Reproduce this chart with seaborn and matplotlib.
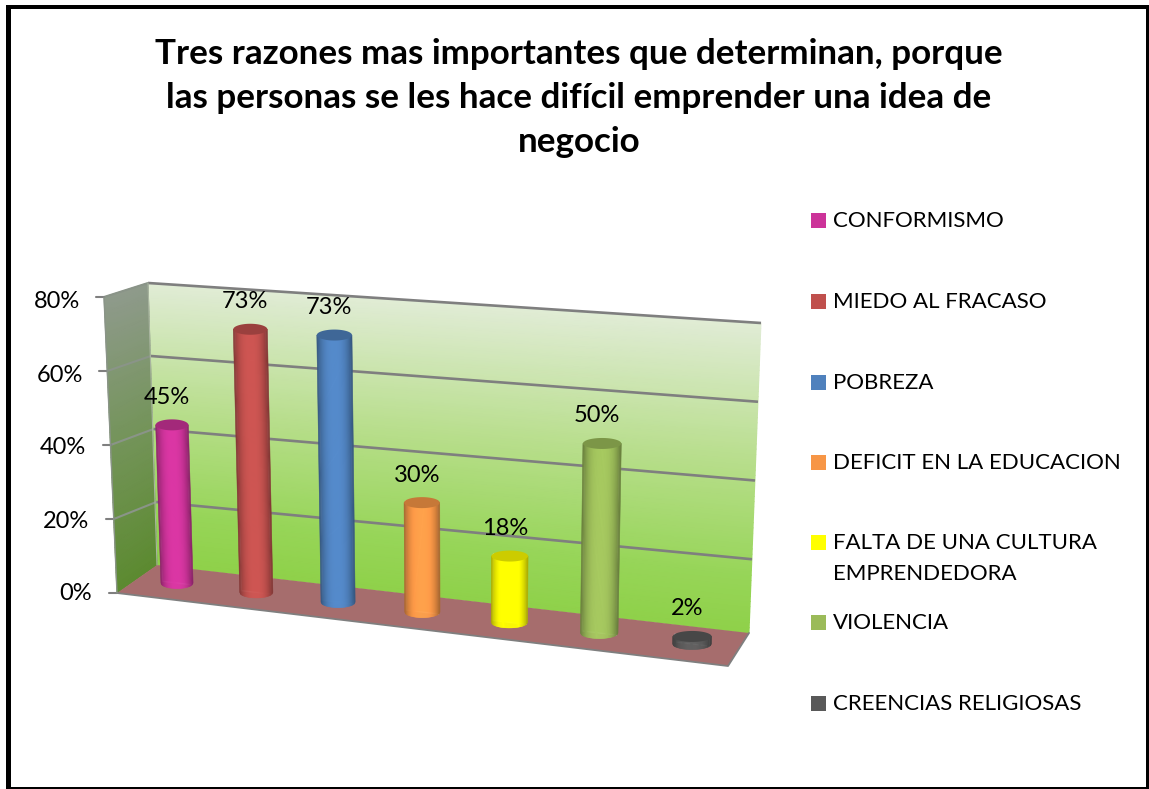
import numpy as np
import pandas as pd
import matplotlib
matplotlib.use("Agg")
import matplotlib.pyplot as plt
import seaborn as sns
from matplotlib.collections import PolyCollection
from matplotlib.colors import LinearSegmentedColormap, to_rgb
from matplotlib.patches import Polygon, Rectangle
from matplotlib.ticker import FuncFormatter
from matplotlib.transforms import Affine2D, Transform

TITLE = ("Tres razones mas importantes que determinan, porque\n"
         "las personas se les hace difícil emprender una idea de\n"
         "negocio")
categories = ["CONFORMISMO", "MIEDO AL FRACASO", "POBREZA", "DEFICIT EN LA EDUCACION",
              "FALTA DE UNA CULTURA\nEMPRENDEDORA", "VIOLENCIA", "CREENCIAS RELIGIOSAS"]
values = [45, 73, 73, 30, 18, 50, 2]
colors = ["#CC3399", "#C0504D", "#4F81BD", "#F79646", "#FFFF00", "#9BBB59", "#595959"]
y_ticks = [0, 20, 40, 60, 80]

W, H = 1149, 789
FONT = "Lato"
GRID = "#7F7F7F"

sns.set_theme(style="white")
plt.rcParams["font.family"] = [FONT, "DejaVu Sans"]
fig = plt.figure(figsize=(W / 100, H / 100), dpi=100, facecolor="white")

# ---------- background in pixel coordinates: frame, walls, floor ----------
bg = fig.add_axes([0, 0, 1, 1], zorder=0)
bg.set_xlim(0, W)
bg.set_ylim(H, 0)
bg.axis("off")

back_tl, back_tr, back_br, back_bl = map(np.array, [(148, 283), (761, 323), (749, 633), (157, 565)])
side_tl, side_bl = map(np.array, [(104, 297), (117, 593)])
floor_fr = np.array((728, 666))
# the zero line of the back wall lies just under the floor's rear edge
grid_bl, grid_br = np.array((159.0, 575.0)), np.array((749.0, 638.0))


def wall_mesh(tl, tr, bl, br, stops, n=60):
    s = np.linspace(0, 1, n)[:, None]
    left, right = bl + (tl - bl) * s, br + (tr - br) * s
    X = np.column_stack([left[:, 0], right[:, 0]])
    Y = np.column_stack([left[:, 1], right[:, 1]])
    C = np.column_stack([s[:, 0], s[:, 0]])
    cmap = LinearSegmentedColormap.from_list("w", stops)
    bg.pcolormesh(X, Y, C, shading="gouraud", cmap=cmap, vmin=0, vmax=1, zorder=1)


wall_mesh(back_tl, back_tr, back_bl, back_br,
          [(0, "#8FD14A"), (0.18, "#97D558"), (0.55, "#B8DE8C"), (1, "#E1ECD6")])
wall_mesh(side_tl, back_tl, side_bl, back_bl,
          [(0, "#5C8A30"), (0.5, "#74945A"), (1, "#8F9A8C")])
bg.add_patch(Polygon([back_bl, back_br, floor_fr, side_bl], closed=True, fc="#A66D6D", ec="none", zorder=2))
bg.plot(*np.array([side_bl, floor_fr, back_br]).T, color=GRID, lw=1.3, zorder=3)

for v in y_ticks:
    f = v / 80
    bl_pt = grid_bl + (back_tl - grid_bl) * f
    br_pt = grid_br + (back_tr - grid_br) * f
    sl_pt = side_bl + (side_tl - side_bl) * f
    if v:
        bg.plot(*np.array([bl_pt, br_pt]).T, color=GRID, lw=1.9, zorder=3, solid_capstyle="butt")
        bg.plot(*np.array([sl_pt, bl_pt]).T, color="#8A9488", lw=1.5, zorder=3, solid_capstyle="butt")
    bg.plot([sl_pt[0] - 8, sl_pt[0]], [sl_pt[1]] * 2, color=GRID, lw=1.5, zorder=3)
bg.plot(*np.array([side_tl, side_bl]).T, color="#8A9488", lw=1.0, zorder=3)
bg.plot(*np.array([back_tl, back_bl]).T, color="#A9B5A0", lw=0.8, zorder=3)

for x0, y0, ww, hh in [(6, 5, 4.5, 784), (6, 5, 1143, 3.5), (1146, 5, 3, 784), (6, 787, 1143, 2)]:
    bg.add_patch(Rectangle((x0, y0), ww, hh, fc="black", ec="none", zorder=6))

# ---------- data axes ----------
ax = fig.add_axes([110 / W, (H - 592) / H, 650 / W, 292 / H], zorder=1)
ax.patch.set_alpha(0)
df = pd.DataFrame({"categoria": categories, "valor": values})
sns.barplot(data=df, x="categoria", y="valor", hue="categoria", palette=colors, hue_order=categories,
            order=categories, width=0.37, saturation=1, legend=False, ax=ax)
ax.set_xlim(-0.5, 6.5)
ax.set_ylim(0, 80)
ax.set_xlabel("")
ax.set_ylabel("")
ax.set_xticks([])
ax.set_yticks(y_ticks)
ax.yaxis.set_major_formatter(FuncFormatter(lambda v, _: f"{v:.0f}%"))
ax.tick_params(axis="y", length=0, pad=0, labelsize=17, labelcolor="black")
sns.despine(ax=ax, left=True, bottom=True)


# ---------- perspective of the 3-D chart plane ----------
class Persp(Transform):
    input_dims = output_dims = 2
    is_separable = False
    has_inverse = False

    def __init__(self, M):
        super().__init__()
        self.M = M

    def transform_non_affine(self, xy):
        xy = np.asarray(xy, float)
        q = np.column_stack([xy, np.ones(len(xy))]) @ self.M.T
        return q[:, :2] / q[:, 2:]


def homography(src, dst):
    A, b = [], []
    for (x, y), (u, v) in zip(src, dst):
        A.append([x, y, 1, 0, 0, 0, -u * x, -u * y]); b.append(u)
        A.append([0, 0, 0, x, y, 1, -v * x, -v * y]); b.append(v)
    return np.append(np.linalg.solve(np.array(A), np.array(b)), 1).reshape(3, 3)


corners = [(0, 0), (6, 0), (0, 80), (6, 80)]
targets_px = [(177, 583), (692, 644), (168, 298), (700, 332)]
M = homography(ax.transData.transform(corners), [(x, H - y) for x, y in targets_px])
T = ax.transData + Persp(M)

RY_PX = 5.5  # flat elliptical ends of the cylinders, in pixels
HALF = 0.205  # cylinder half width, in category units
for idx, (bar, v, c) in enumerate(zip(ax.patches, values, colors)):
    bar.set_transform(T)
    bar.set_clip_on(False)
    xc = bar.get_x() + bar.get_width() / 2
    top = bar.get_height()
    rgb = np.array(to_rgb(c))
    ct, cb = T.transform(np.array([[xc, top], [xc, 0.0]]))
    ht = T.transform(np.array([[xc + HALF, top]]))[0][0] - ct[0]
    hb = T.transform(np.array([[xc + HALF, 0.0]]))[0][0] - cb[0]
    edges = np.linspace(-1, 1, 35)
    polys, cols = [], []
    low = lambda t: cb[1] - RY_PX * np.sqrt(max(0, 1 - t * t))
    for a, b in zip(edges[:-1], edges[1:]):
        tm = (a + b) / 2
        polys.append([(ct[0] + a * ht, ct[1]), (ct[0] + b * ht, ct[1]),
                      (cb[0] + b * hb, low(b)), (cb[0] + a * hb, low(a))])
        shade = 0.66 + 0.42 * (1 - abs(tm) ** 2.6)
        cols.append(np.clip(rgb * shade, 0, 1))
    pc = PolyCollection(polys, facecolors=cols, edgecolors=cols, linewidths=0.4, zorder=3, clip_on=False)
    pc.set_transform(Affine2D())
    ax.add_artist(pc)
    th = np.linspace(0, 2 * np.pi, 60)
    cap = np.column_stack([ct[0] + ht * np.cos(th), ct[1] + RY_PX * np.sin(th)])
    ax.add_artist(Polygon(cap, closed=True, fc=np.clip(rgb * 0.8, 0, 1), ec="none",
                          transform=Affine2D(), zorder=4, clip_on=False))
    ax.annotate(f"{v}%", xy=(xc, top), xycoords=T, xytext=(-5, 27.5), textcoords="offset pixels",
                ha="center", va="center", fontsize=17, color="black", zorder=5, annotation_clip=False)

# tick labels follow the slanted left wall
for tick, v in zip(ax.yaxis.get_major_ticks(), y_ticks):
    right = 92 - 12 * v / 80
    tick.label1.set_transform(tick.label1.get_transform() + Affine2D().translate(right - 110, 0))
    tick.label1.set_fontfamily([FONT, "DejaVu Sans"])

# ---------- legend ----------
legend_y = [220, 301, 382, 462, 542, 622, 703]
for name, c, y in zip(categories, colors, legend_y):
    bg.add_patch(Rectangle((811, y - 7.5), 15, 15, fc=c, ec="none", zorder=5))
    bg.text(833, y - 9, name, ha="left", va="top", fontsize=16, color="black",
            linespacing=1.68, zorder=5)

fig.suptitle(TITLE, x=579 / W, y=1 - 98 / H, ha="center", va="center",
             fontsize=25.2, fontweight="bold", color="black", linespacing=1.47)

fig.savefig("out.png", dpi=100, facecolor="white")
